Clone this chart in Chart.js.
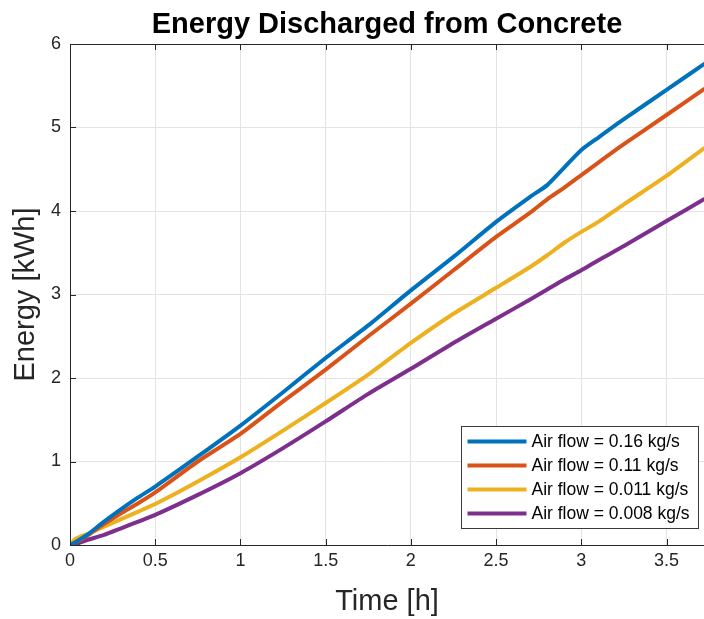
<!DOCTYPE html>
<html>
<head>
<meta charset="utf-8">
<script src="https://cdn.jsdelivr.net/npm/chart.js@4.4.1/dist/chart.umd.min.js"></script>
<style>
  html, body { margin: 0; padding: 0; background: #ffffff; }
  #wrap { width: 704px; height: 619px; }
</style>
</head>
<body>
<div id="wrap"><canvas id="c" width="704" height="619"></canvas></div>
<script>
// ---- Data ----
const timeH = [0, 0.03, 0.06, 0.1, 0.2, 0.3, 0.4, 0.5, 0.75, 1.0, 1.25, 1.5, 1.75, 2.0, 2.25, 2.5, 2.7, 2.8, 2.9, 3.0, 3.1, 3.25, 3.5, 3.72];
const energy016 = [0, 0.03, 0.07, 0.12, 0.28, 0.43, 0.57, 0.70, 1.06, 1.43, 1.83, 2.24, 2.63, 3.05, 3.45, 3.87, 4.17, 4.31, 4.52, 4.73, 4.88, 5.10, 5.45, 5.76];
const energy011 = [0, 0.03, 0.06, 0.11, 0.25, 0.38, 0.50, 0.63, 1.00, 1.33, 1.72, 2.10, 2.50, 2.89, 3.29, 3.69, 3.98, 4.14, 4.28, 4.43, 4.58, 4.80, 5.15, 5.46];
const energy0011 = [0, 0.07, 0.10, 0.13, 0.22, 0.31, 0.40, 0.49, 0.76, 1.05, 1.37, 1.70, 2.04, 2.42, 2.77, 3.08, 3.33, 3.47, 3.62, 3.75, 3.87, 4.08, 4.42, 4.75];
const energy0008 = [0, 0.0, 0.03, 0.06, 0.12, 0.20, 0.28, 0.36, 0.60, 0.86, 1.16, 1.48, 1.81, 2.11, 2.42, 2.71, 2.94, 3.06, 3.18, 3.29, 3.41, 3.58, 3.88, 4.14];
const seriesLabels = ['Air flow = 0.16 kg/s', 'Air flow = 0.11 kg/s', 'Air flow = 0.011 kg/s', 'Air flow = 0.008 kg/s'];
const seriesColors = ['#0072BD', '#D95319', '#EDB120', '#7E2F8E'];
const xTickValues = [0, 0.5, 1, 1.5, 2, 2.5, 3, 3.5];
const yTickValues = [0, 1, 2, 3, 4, 5, 6];
const titleText = 'Energy Discharged from Concrete';
const xTitle = 'Time [h]';
const yTitle = 'Energy [kWh]';

const FONT = '"Liberation Sans", Arial, Helvetica, sans-serif';
const AXIS_COLOR = '#262626';
const GRID_COLOR = '#e3e3e3';

function pts(ys) { return timeH.map((t, i) => ({ x: t, y: ys[i] })); }
const allSeries = [energy016, energy011, energy0011, energy0008];

const datasets = allSeries.map((ys, i) => ({
  label: seriesLabels[i],
  data: pts(ys),
  borderColor: seriesColors[i],
  backgroundColor: seriesColors[i],
  borderWidth: 4,
  pointRadius: 0,
  tension: 0.2,
  fill: false,
  borderJoinStyle: 'round',
  borderCapStyle: 'round'
}));

// inward ticks + top border + title centred over the plot area
const axisDecor = {
  id: 'axisDecor',
  afterDatasetsDraw(chart) {
    const { ctx, chartArea: a, scales: { x, y } } = chart;
    ctx.save();
    ctx.strokeStyle = AXIS_COLOR;
    ctx.lineWidth = 1;
    const L = 6;
    ctx.beginPath();
    xTickValues.forEach(v => {
      const px = Math.round(x.getPixelForValue(v)) + 0.5;
      ctx.moveTo(px, a.bottom); ctx.lineTo(px, a.bottom - L);
      ctx.moveTo(px, a.top); ctx.lineTo(px, a.top + L);
    });
    yTickValues.forEach(v => {
      const py = Math.round(y.getPixelForValue(v)) + 0.5;
      ctx.moveTo(a.left, py); ctx.lineTo(a.left + L, py);
    });
    ctx.moveTo(a.left, Math.round(a.top) + 0.5);
    ctx.lineTo(a.right, Math.round(a.top) + 0.5);
    ctx.stroke();

    ctx.fillStyle = '#000000';
    ctx.font = 'bold 29px ' + FONT;
    ctx.textAlign = 'center';
    ctx.textBaseline = 'alphabetic';
    ctx.fillText(titleText, (a.left + a.right) / 2, 33);
    ctx.restore();
  }
};

// legend box inside plot (bottom-right)
const insideLegend = {
  id: 'insideLegend',
  afterDraw(chart) {
    const { ctx, chartArea: a } = chart;
    const boxW = 237, boxH = 102;
    const bx = a.right - 6 - boxW + 0.5;
    const by = a.bottom - 17 - boxH + 0.5;
    ctx.save();
    ctx.fillStyle = '#ffffff';
    ctx.fillRect(bx, by, boxW, boxH);
    ctx.strokeStyle = '#3a3a3a';
    ctx.lineWidth = 1;
    ctx.strokeRect(bx, by, boxW, boxH);
    ctx.font = '17.5px ' + FONT;
    ctx.textBaseline = 'middle';
    ctx.fillStyle = '#000000';
    chart.data.datasets.forEach((ds, i) => {
      const ry = by + 15 + i * 24;
      ctx.strokeStyle = ds.borderColor;
      ctx.lineWidth = 4;
      ctx.beginPath();
      ctx.moveTo(bx + 6, ry);
      ctx.lineTo(bx + 65, ry);
      ctx.stroke();
      ctx.fillText(ds.label, bx + 70, ry + 1);
    });
    ctx.restore();
  }
};

new Chart(document.getElementById('c'), {
  type: 'line',
  data: { datasets },
  plugins: [axisDecor, insideLegend],
  options: {
    responsive: false,
    animation: false,
    layout: { padding: { left: 0, right: 0, top: 44, bottom: 0 } },
    plugins: {
      legend: { display: false },
      tooltip: { enabled: false },
      title: { display: false }
    },
    scales: {
      x: {
        type: 'linear',
        min: 0,
        max: 3.72,
        afterBuildTicks(s) { s.ticks = xTickValues.map(v => ({ value: v })); },
        afterFit(s) { s.height = 74; },
        ticks: {
          color: AXIS_COLOR,
          font: { family: FONT, size: 18 },
          padding: 5,
          maxRotation: 0,
          callback: v => String(v)
        },
        grid: { color: GRID_COLOR, drawTicks: false, lineWidth: 1 },
        border: { color: AXIS_COLOR, width: 1 },
        title: {
          display: true,
          text: xTitle,
          color: AXIS_COLOR,
          font: { family: FONT, size: 29 },
          padding: { top: 0, bottom: 0 }
        }
      },
      y: {
        type: 'linear',
        min: 0,
        max: 6,
        afterBuildTicks(s) { s.ticks = yTickValues.map(v => ({ value: v })); },
        afterFit(s) { s.width = 70; },
        ticks: {
          color: AXIS_COLOR,
          font: { family: FONT, size: 18 },
          padding: 9,
          callback: v => String(v)
        },
        grid: { color: GRID_COLOR, drawTicks: false, lineWidth: 1 },
        border: { color: AXIS_COLOR, width: 1 },
        title: {
          display: true,
          text: yTitle,
          color: AXIS_COLOR,
          font: { family: FONT, size: 29 },
          padding: { top: 9, bottom: 0 }
        }
      }
    }
  }
});
</script>
</body>
</html>
